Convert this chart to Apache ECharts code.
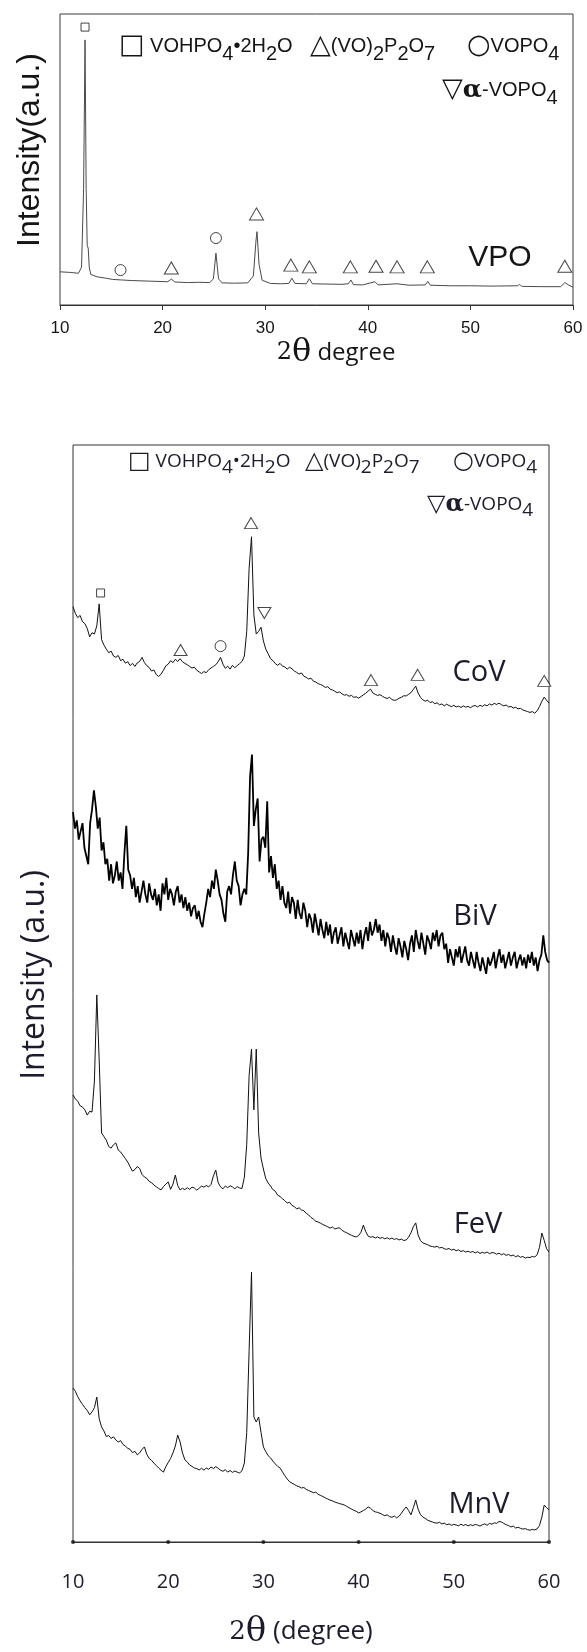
<!DOCTYPE html>
<html lang="en" style="height: 100%">
<head>
  <meta charset="utf-8">
</head>
<body style="height: 100%; margin: 0; background: #fff">
  <div id="container" style="width: 587px; height: 1652px"></div>

  <script type="text/javascript" src="https://cdn.jsdelivr.net/npm/echarts@6/dist/echarts.min.js"></script>

  <script type="text/javascript">
    // 2-theta axis shared by both charts
    var ANGLE_MIN = 10, ANGLE_MAX = 60;
    var TICKS = [10, 20, 30, 40, 50, 60];

    // top chart: VPO precursor, [2theta, intensity 0-100]
    var vpo = [
      [10, 11.4], [11, 11.2], [11.8, 10.9], [12.1, 13], [12.3, 40], [12.44, 91.1], [12.55, 40],
      [12.65, 20.5], [12.75, 19.5], [12.85, 13], [13.0, 10.5], [13.6, 9.7], [14.5, 9.2], [15.1, 8.8],
      [16, 8.6], [17, 8.4], [18.7, 8.2], [20.5, 8.0], [20.85, 8.9], [21.2, 7.9], [22.5, 7.7],
      [23.5, 7.8], [24.6, 7.7], [24.95, 9], [25.2, 17.8], [25.45, 9], [25.8, 7.6], [27, 7.5],
      [28.3, 7.6], [28.85, 10], [29.1, 22], [29.2, 25.2], [29.4, 14], [29.7, 8.5], [30.5, 7.4],
      [31.5, 7.3], [32.3, 7.4], [32.6, 9.2], [32.9, 7.4], [34.0, 7.3], [34.3, 9.0], [34.6, 7.3],
      [36, 7.2], [37.5, 7.1], [38.1, 7.3], [38.35, 8.6], [38.6, 7.0], [39.5, 6.9], [40.7, 8.0],
      [41, 6.9], [42.85, 7.3], [44, 6.8], [45.6, 6.9], [45.85, 8.1], [46.1, 6.8], [48, 6.6],
      [50, 6.6], [52, 6.5], [54.6, 6.6], [54.8, 7.1], [55, 6.4], [57, 6.3], [58.8, 6.3],
      [59.2, 7.7], [59.6, 6.8], [60, 6.1]
    ];
    var vpoSquare = [[12.44, 95.5]];
    var vpoCircle = [[15.9, 12.0], [25.2, 23.0]];
    var vpoTriangle = [[20.85, 12.7], [29.15, 31.3], [32.5, 13.7], [34.3, 13.1], [38.3, 13.1],
      [40.8, 13.3], [42.85, 13.1], [45.8, 13.1], [59.2, 13.3]];

    // bottom chart: scans from 10 deg, every 0.25 deg (BiV every 0.2 deg), intensity 0-100 per panel
    var STEP = 0.25, BIV_STEP = 0.2;
    var cov = [
      41.0, 38.5, 37.0, 37.8, 35.5, 34.8, 33.0, 30.0,
      31.5, 31.0, 34.0, 42.0, 29.0, 27.0, 25.5, 24.2,
      24.8, 23.0, 22.5, 23.2, 21.3, 21.8, 20.4, 20.9,
      19.5, 20.3, 19.2, 20.5, 21.0, 22.5, 20.6, 19.5,
      18.8, 17.5, 17.9, 16.2, 15.5, 16.4, 17.8, 19.4,
      20.0, 21.3, 20.6, 21.8, 21.0, 22.0, 20.9, 20.3,
      19.8, 19.2, 18.6, 18.9, 17.8, 17.2, 16.6, 17.3,
      16.9, 18.0, 18.6, 19.2, 19.8, 20.9, 22.5, 20.0,
      18.5, 19.3, 18.2, 19.6, 18.7, 19.5, 20.2, 21.0,
      23.0, 32.0, 55.0, 66.5, 38.0, 31.0, 32.0, 33.5,
      28.5, 25.5, 23.8, 22.0, 21.3, 20.2, 19.6, 20.3,
      19.3, 19.0, 18.2, 18.9, 18.3, 17.5, 17.0, 16.4,
      16.8, 15.6, 15.2, 14.6, 14.9, 13.8, 13.5, 12.9,
      12.6, 12.2, 11.5, 11.8, 10.9, 10.6, 10.1, 9.6,
      9.9, 9.2, 8.7, 8.9, 8.3, 8.6, 7.9, 8.1,
      7.6, 8.2, 8.8, 9.4, 10.2, 10.9, 9.5, 9.0,
      8.6, 8.9, 8.3, 7.8, 7.5, 7.9, 7.1, 6.8,
      7.0, 7.6, 7.9, 8.5, 8.4, 9.0, 9.6, 10.8,
      12.0, 9.5, 7.9, 7.0, 6.5, 6.9, 6.0, 6.3,
      5.6, 5.9, 5.2, 5.5, 4.8, 5.4, 4.9, 4.5,
      5.0, 4.4, 4.7, 4.2, 4.8, 4.3, 4.6, 4.1,
      4.7, 4.9, 4.4, 5.0, 4.6, 5.2, 4.8, 5.5,
      5.1, 5.7, 5.3, 5.8, 5.2, 4.8, 5.1, 4.4,
      4.6, 4.0, 4.3, 3.7, 3.9, 3.3, 3.0, 2.7,
      2.4, 2.7, 2.1, 3.0, 4.5, 6.5, 8.0, 6.8,
      5.8
    ];
    var covSquare = [[12.9, 46.0]];
    var covCircle = [[25.5, 26.6]];
    var covTriangle = [[21.3, 25.2], [28.7, 71.5], [41.3, 14.2], [46.2, 16.1], [59.5, 13.9]];
    var covDown = [[30.1, 38.7]];

    var biv = [
      66, 60, 63, 56, 59, 62, 53, 50, 47, 62,
      67, 74, 68, 60, 64, 52, 55, 47, 49, 41,
      47, 40, 43, 48, 41, 44, 38, 51, 61, 45,
      43, 38, 42, 35, 39, 33, 37, 41, 36, 33,
      40, 36, 34, 38, 32, 36, 30, 40, 36, 42,
      34, 38, 36, 32, 37, 39, 33, 36, 31, 35,
      30, 33, 28, 31, 32, 27, 30, 26, 24, 29,
      33, 38, 35, 41, 38, 45, 41, 36, 34, 29,
      26, 37, 39, 36, 43, 48, 41, 39, 32, 36,
      38, 36, 51, 79, 87, 61, 67, 71, 48, 56,
      57, 53, 70, 44, 50, 42, 47, 38, 41, 34,
      39, 33, 31, 37, 29, 35, 33, 27, 34, 29,
      27, 33, 30, 24, 29, 27, 22, 29, 25, 21,
      27, 23, 20, 26, 21, 25, 18, 22, 24, 18,
      21, 24, 17, 22, 19, 16, 23, 20, 17, 22,
      18, 23, 16, 21, 24, 19, 26, 21, 23, 27,
      22, 25, 19, 23, 17, 22, 20, 15, 21, 17,
      14, 20, 17, 13, 19, 16, 12, 18, 21, 15,
      23, 19, 16, 22, 18, 14, 21, 19, 16, 22,
      19, 23, 17, 21, 22, 16, 18, 11, 16, 13,
      10, 16, 13, 17, 11, 14, 17, 12, 10, 15,
      12, 9, 15, 11, 8, 13, 10, 7, 13, 10,
      12, 15, 9, 13, 16, 11, 14, 9, 12, 15,
      10, 13, 15, 9, 12, 14, 10, 13, 9, 14,
      11, 15, 10, 13, 8, 12, 14, 21, 15, 12,
      11
    ];

    var fev = [
      62.9, 61.5, 60.6, 59.0, 58.5, 57.5, 55.6, 57.0,
      56.7, 68.0, 99.3, 75.6, 49.1, 47.8, 46.5, 44.2,
      43.6, 44.8, 45.5, 42.9, 42.2, 41.0, 39.8, 38.5,
      36.8, 35.2, 35.8, 36.9, 36.2, 34.0, 33.1, 32.6,
      31.5, 31.0, 30.2, 29.5, 28.9, 28.4, 29.6, 30.5,
      31.3, 28.6, 30.5, 33.8, 30.0, 28.4, 29.0, 28.5,
      29.2, 28.6, 29.4, 29.1, 28.3, 29.0, 29.8, 29.4,
      30.0, 29.5, 30.4, 33.5, 35.6, 31.0, 29.5, 28.8,
      29.8, 29.2, 29.9, 29.5, 28.8, 29.6, 29.1, 28.9,
      33.0, 45.0, 70.0, 79.6, 57.5, 79.6, 49.1, 40.0,
      36.0, 32.5, 30.9, 29.8, 28.5, 27.9, 26.5, 26.0,
      25.2, 24.5, 23.6, 23.9, 22.8, 22.3, 21.5, 21.9,
      21.1, 20.8, 19.9, 19.3, 18.4, 17.8, 17.0, 16.7,
      16.3, 15.8, 15.4, 15.0, 14.5, 14.9, 14.2, 14.5,
      14.6, 13.7, 13.2, 12.8, 12.3, 11.9, 11.5, 11.3,
      11.8, 13.0, 15.6, 13.2, 11.6, 11.2, 11.4, 10.9,
      11.3, 10.8, 11.1, 10.6, 11.0, 10.5, 10.9, 10.4,
      10.7, 10.2, 10.5, 10.0, 10.2, 11.2, 12.8, 15.0,
      16.4, 12.0, 10.0, 9.1, 8.8, 8.5, 8.0, 7.8,
      7.6, 7.9, 7.3, 7.5, 7.0, 6.8, 7.1, 6.5,
      6.8, 6.3, 6.6, 6.0, 6.3, 5.8, 6.1, 5.7,
      6.0, 5.5, 5.9, 5.3, 5.7, 5.4, 5.8, 5.2,
      5.6, 5.5, 5.0, 5.4, 4.8, 5.2, 4.6, 4.9,
      4.4, 4.7, 4.1, 4.5, 3.9, 4.2, 3.6, 3.9,
      3.8, 4.2, 4.0, 4.8, 7.5, 12.7, 10.0, 7.0,
      5.8
    ];

    var mnv = [
      56.2, 55.0, 53.0, 51.5, 50.2, 49.0, 48.0, 46.4,
      47.5, 49.0, 52.9, 45.0, 42.0, 40.5, 38.5, 38.9,
      37.8, 38.4, 37.2, 36.5, 37.0, 35.6, 35.0, 34.2,
      33.8, 32.6, 33.1, 31.8, 32.5, 33.8, 34.7, 32.0,
      30.5, 29.8, 28.8, 27.9, 27.0, 26.2, 25.5, 27.5,
      29.0, 30.5, 32.5, 35.0, 39.0, 36.5, 32.5, 30.0,
      29.2, 28.1, 27.6, 27.0, 26.8, 26.3, 26.9, 26.2,
      27.0, 26.5, 27.4, 26.8, 27.5, 26.9, 26.2, 25.8,
      26.4, 25.5, 26.1, 25.4, 25.9, 25.5, 25.2, 26.0,
      28.8, 40.0, 70.0, 98.5, 45.6, 43.8, 45.6, 40.0,
      34.7, 33.0, 31.5, 30.7, 29.5, 28.5, 27.6, 27.0,
      25.6, 24.2, 23.0, 22.0, 21.5, 21.0, 20.5, 20.2,
      19.7, 19.9, 19.2, 18.8, 18.4, 18.0, 18.2, 17.4,
      17.0, 16.6, 16.1, 15.7, 15.3, 15.0, 14.6, 14.3,
      14.0, 13.8, 13.5, 13.0, 12.5, 12.0, 11.6, 11.2,
      10.6, 11.0, 11.5, 12.0, 12.8, 12.3, 11.5, 11.0,
      10.8, 10.5, 10.0, 9.6, 9.9, 9.3, 9.0, 9.5,
      8.8, 9.4, 10.5, 11.8, 12.8, 11.5, 9.9, 12.5,
      15.3, 12.0, 10.0, 9.1, 8.6, 8.0, 7.6, 7.3,
      7.0, 6.9, 7.2, 6.6, 6.9, 6.3, 6.6, 6.1,
      6.4, 6.2, 5.9, 6.5, 6.0, 6.4, 5.9, 6.3,
      6.0, 6.4, 6.2, 5.8, 6.3, 6.6, 6.1, 6.8,
      6.5, 7.0, 6.8, 7.5, 7.3, 6.8, 6.3, 6.0,
      5.5, 5.8, 5.1, 5.4, 5.0, 4.7, 4.9, 4.5,
      4.3, 4.6, 4.4, 4.8, 6.0, 9.1, 13.5, 12.5,
      11.7
    ];

    var SAMPLE_NAMES = ['CoV', 'BiV', 'FeV', 'MnV'];

    function toPairs(values, step) {
      return values.map(function (v, i) {
        return [Math.round((ANGLE_MIN + i * step) * 100) / 100, v];
      });
    }

    var dom = document.getElementById('container');
    var myChart = echarts.init(dom, null, { renderer: 'canvas' });

    var INK = '#151515';
    var NAVY = '#1c1c2a';
    var SANS = '"Open Sans", "Noto Sans", sans-serif';
    var ARIAL = '"Liberation Sans", Arial, sans-serif';
    var SERIF = '"DejaVu Serif", "Liberation Serif", serif';

    // panels of the bottom chart
    var L = 73, W = 476;
    var panels = [
      { top: 445, height: 274 },
      { top: 719, height: 274 },
      { top: 993, height: 275 },
      { top: 1268, height: 274 }
    ];

    var grids = [
      { left: 60, top: 14, width: 513, height: 291, show: true, borderColor: '#3a3a3a', borderWidth: 1, backgroundColor: 'transparent' },
      { left: L, top: 445, width: W, height: 1097, show: true, borderColor: '#333', borderWidth: 1, backgroundColor: 'transparent' }
    ];
    panels.forEach(function (p) {
      grids.push({ left: L, top: p.top, width: W, height: p.height });
    });

    var xAxes = [
      {
        gridIndex: 0, type: 'value', min: ANGLE_MIN, max: ANGLE_MAX, interval: 10,
        axisLine: { lineStyle: { color: '#333' } },
        axisTick: { show: true, inside: false, length: 5, lineStyle: { color: '#333' } },
        axisLabel: { fontSize: 17, fontFamily: ARIAL, color: INK, margin: 15 },
        splitLine: { show: false }
      },
      {
        gridIndex: 1, type: 'value', min: ANGLE_MIN, max: ANGLE_MAX, interval: 10,
        axisLine: { lineStyle: { color: '#333' } },
        axisTick: { show: false },
        axisLabel: { fontSize: 20, fontFamily: SANS, color: NAVY, margin: 30 },
        splitLine: { show: false }
      }
    ];
    var yAxes = [
      { gridIndex: 0, type: 'value', min: 0, max: 100, show: false },
      { gridIndex: 1, type: 'value', min: 0, max: 1, show: false }
    ];
    panels.forEach(function (p, i) {
      xAxes.push({ gridIndex: i + 2, type: 'value', min: ANGLE_MIN, max: ANGLE_MAX, show: false });
      yAxes.push({ gridIndex: i + 2, type: 'value', min: 0, max: 100, show: false });
    });

    function marker(grid, data, symbol, size, rotate) {
      return {
        type: 'scatter', xAxisIndex: grid, yAxisIndex: grid, data: data,
        symbol: symbol, symbolSize: size, symbolRotate: rotate || 0, clip: false, z: 5,
        itemStyle: { color: '#fff', borderColor: INK, borderWidth: 1 },
        emphasis: { disabled: true }
      };
    }
    function trace(grid, data, width, color) {
      return {
        type: 'line', xAxisIndex: grid, yAxisIndex: grid, data: data,
        showSymbol: false, clip: false, animation: false,
        lineStyle: { color: color, width: width }
      };
    }

    var series = [
      trace(0, vpo, 1, '#4a4a4a'),
      marker(0, vpoSquare, 'rect', 8),
      marker(0, vpoCircle, 'circle', 11),
      marker(0, vpoTriangle, 'triangle', [14, 12]),
      {
        type: 'scatter', xAxisIndex: 1, yAxisIndex: 1, clip: false,
        data: TICKS.map(function (t) { return [t, 0]; }),
        symbolSize: 4, itemStyle: { color: '#111' }
      },
      trace(2, toPairs(cov, STEP), 1, '#111'),
      trace(3, toPairs(biv, BIV_STEP), 1.8, '#000'),
      trace(4, toPairs(fev, STEP), 1, '#111'),
      trace(5, toPairs(mnv, STEP), 1, '#111'),
      marker(2, covSquare, 'rect', 8),
      marker(2, covCircle, 'circle', 11),
      marker(2, covTriangle, 'triangle', [13, 11]),
      marker(2, covDown, 'triangle', [13, 11], 180)
    ];

    // legend lines and axis titles
    function richText(x, y, text, base, rich, extra) {
      var el = {
        type: 'text', x: x, y: y, silent: true,
        style: Object.assign({ text: text, rich: rich, align: 'left', verticalAlign: 'middle' }, base)
      };
      return Object.assign(el, extra || {});
    }
    function legendRich(font, size, symSize, lh) {
      return {
        s: { fontFamily: '"DejaVu Sans"', fontSize: symSize, lineHeight: lh },
        t: { fontFamily: font, fontSize: size, lineHeight: lh },
        b: { fontFamily: font, fontSize: size, lineHeight: lh, verticalAlign: 'bottom' },
        a: { fontFamily: SERIF, fontSize: size + 5, fontWeight: 'bold', lineHeight: lh }
      };
    }
    var topRich = legendRich(ARIAL, 20, 27, 36);
    var botRich = legendRich(SANS, 19, 24, 30);
    var topBase = { fill: INK, fontFamily: ARIAL, fontSize: 20, lineHeight: 36 };
    var botBase = { fill: NAVY, fontFamily: SANS, fontSize: 19, lineHeight: 30 };

    var L1 = '{s|□}{t| VOHPO}{b|4}{t|•2H}{b|2}{t|O}';
    var L2 = '{s|△}{t|(VO)}{b|2}{t|P}{b|2}{t|O}{b|7}';
    var L3 = '{s|○}{t|VOPO}{b|4}';
    var L4 = '{s|▽}{a|α}{t|-VOPO}{b|4}';

    var titleRich = function (size) {
      return {
        n: { fontFamily: SERIF, fontSize: size },
        th: { fontFamily: SERIF, fontSize: size + 8 },
        d: { fontFamily: SANS, fontSize: size }
      };
    };

    var graphic = [
      richText(119, 46, L1, topBase, topRich),
      richText(310, 46, L2, topBase, topRich),
      richText(467, 46, L3, topBase, topRich),
      richText(442, 90, L4, topBase, topRich),
      richText(128, 462, L1, botBase, botRich),
      richText(305, 462, L2, botBase, botRich),
      richText(453, 462, L3, botBase, botRich),
      richText(427, 505, L4, botBase, botRich),
      richText(336, 353, '{n|2}{th|θ}{d| degree}', { fill: INK, align: 'center' }, titleRich(24)),
      richText(301, 1632, '{n|2}{th|θ}{d| (degree)}', { fill: NAVY, align: 'center' }, titleRich(26)),
      richText(30, 150, 'Intensity(a.u.)', { fill: INK, fontFamily: ARIAL, fontSize: 32, align: 'center' }, {}, { rotation: Math.PI / 2 }),
      richText(35, 975, 'Intensity (a.u.)', { fill: NAVY, fontFamily: SANS, fontSize: 32, align: 'center' }, {}, { rotation: Math.PI / 2 }),
      richText(500, 258, 'VPO', { fill: INK, fontFamily: ARIAL, fontSize: 30, align: 'center' }, {})
    ];
    var labelPos = [[479, 673], [475, 917], [478, 1225], [479, 1505]];
    SAMPLE_NAMES.forEach(function (name, i) {
      graphic.push(richText(labelPos[i][0], labelPos[i][1], name,
        { fill: NAVY, fontFamily: SANS, fontSize: 29, align: 'center' }, {}));
    });

    myChart.setOption({
      animation: false,
      backgroundColor: '#fff',
      grid: grids,
      xAxis: xAxes,
      yAxis: yAxes,
      series: series,
      graphic: graphic
    });

    window.addEventListener('resize', function () {
      myChart.resize();
    });
  </script>
</body>
</html>
